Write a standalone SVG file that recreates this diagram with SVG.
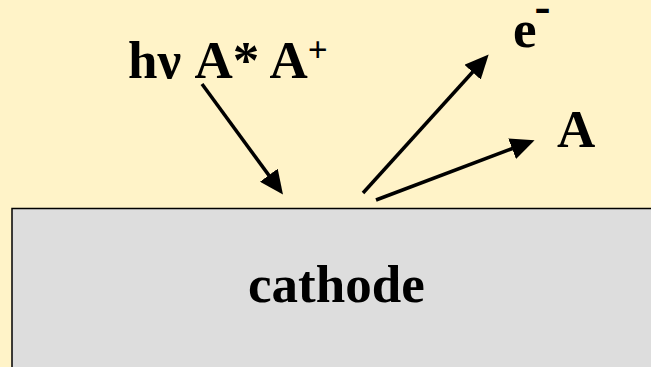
<svg xmlns="http://www.w3.org/2000/svg" width="651" height="367" viewBox="0 0 651 367">
<style>
.lbl{font-family:"Liberation Serif","Times New Roman",serif;font-weight:bold;font-size:53px;fill:#000}
.conn{stroke:#000;stroke-width:3.5;fill:none;marker-end:url(#ah)}
</style>
<defs>
<marker id="ah" markerUnits="userSpaceOnUse" viewBox="0 0 24 22" markerWidth="24" markerHeight="22" refX="0.5" refY="11" orient="auto">
<path d="M0,0 L24,11 L0,22 z" fill="#000"/>
</marker>
</defs>
<rect x="0" y="0" width="651" height="367" fill="#FFF3C8"/>
<g id="cathode">
<rect x="12" y="208.5" width="650" height="170" fill="#DDDDDD" stroke="#000" stroke-width="1.5"/>
<text class="lbl" x="248" y="302">cathode</text>
</g>
<g id="incident">
<text class="lbl" x="128" y="78">hν A* A<tspan font-size="35" dy="-16">+</tspan></text>
</g>
<g id="electron">
<text class="lbl" x="513" y="47">e<tspan font-size="48" dx="-2" dy="-25">-</tspan></text>
</g>
<g id="atom">
<text class="lbl" x="557" y="147">A</text>
</g>
<g id="connectors">
<line class="conn" x1="202" y1="84" x2="269.1" y2="175.6"/>
<line class="conn" x1="363" y1="193" x2="472.9" y2="71.8"/>
<line class="conn" x1="376" y1="200" x2="512.6" y2="148.5"/>
</g>
</svg>
